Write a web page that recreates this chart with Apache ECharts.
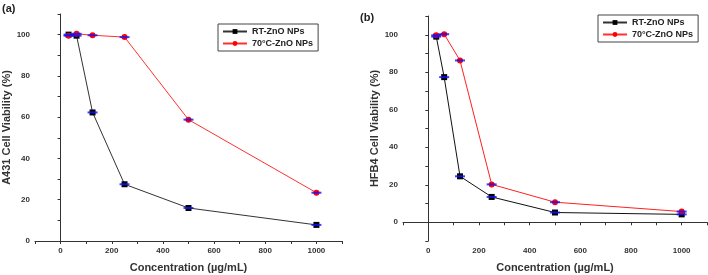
<!DOCTYPE html>
<html>
<head>
<meta charset="utf-8">
<script src="https://cdn.jsdelivr.net/npm/echarts@6/dist/echarts.min.js"></script>
<style>
  html, body { margin: 0; padding: 0; background: #fff; }
  #main { width: 708px; height: 275px; }
</style>
</head>
<body>
<div id="main"></div>
<script>
// concentrations (µg/mL) and viability (%)
var conc = [31.25, 62.5, 125, 250, 500, 1000];
var rtA = [100, 99.5, 62.3, 27.5, 16, 7.8];
var hotA = [99.5, 100.4, 99.7, 98.8, 58.8, 23.4];
var rtB = [99, 77.4, 24.5, 13.5, 5.2, 4.2];
var hotB = [99.7, 100.3, 86.3, 20.2, 10.7, 5.7];
var seriesNames = ['RT-ZnO NPs', '70°C-ZnO NPs'];

function pairs(ys) {
  return conc.map(function (x, i) { return [x, ys[i]]; });
}

var tickFont = { fontSize: 8, fontWeight: 'bold', color: '#333', fontFamily: 'Liberation Sans' };
var nameFont = { fontSize: 11, fontWeight: 'bold', color: '#333', fontFamily: 'Liberation Sans' };
var axisLine = { lineStyle: { color: '#333', width: 1 } };

function xAxis(idx) {
  return {
    type: 'value', gridIndex: idx, min: -100, max: 1100, interval: 100,
    name: 'Concentration (µg/mL)', nameLocation: 'middle', nameGap: 21,
    nameTextStyle: nameFont,
    axisLine: axisLine, axisTick: { length: 3, lineStyle: { color: '#333' } },
    axisLabel: Object.assign({ margin: 6, formatter: function (v) { return v % 200 === 0 ? v : ''; } }, tickFont),
    splitLine: { show: false }
  };
}
function yAxis(idx, min, name) {
  return {
    type: 'value', gridIndex: idx, min: min, max: 110, interval: 10,
    name: name, nameLocation: 'middle', nameGap: 21,
    nameTextStyle: nameFont,
    axisLine: axisLine, axisTick: { length: 3, lineStyle: { color: '#333' } },
    axisLabel: Object.assign({ margin: 5, formatter: function (v) { return v % 20 === 0 ? v : ''; } }, tickFont),
    splitLine: { show: false }
  };
}

function lineSeries(name, data, idx, color, lineColor, symbol) {
  return {
    name: name, type: 'line', xAxisIndex: idx, yAxisIndex: idx, data: pairs(data),
    symbol: symbol, symbolSize: 6, itemStyle: { color: color },
    lineStyle: { color: lineColor, width: 1 }, z: 2
  };
}
// blue error-bar caps at each point
function capSeries(data, idx) {
  return {
    type: 'scatter', xAxisIndex: idx, yAxisIndex: idx, data: pairs(data),
    symbol: 'rect', symbolSize: [10, 2], itemStyle: { color: '#1010ff' }, z: 3, silent: true
  };
}

var legendText = { fontSize: 9, fontWeight: 'bold', color: '#222', fontFamily: 'Liberation Sans' };

var myChart = echarts.init(document.getElementById('main'));
var option = {
  animation: false,
  backgroundColor: '#fff',
  grid: [
    { left: 35, right: 366, top: 14, bottom: 34, outerBoundsMode: 'none' },
    { left: 403, right: 1, top: 16, bottom: 34, outerBoundsMode: 'none' }
  ],
  xAxis: [xAxis(0), xAxis(1)],
  yAxis: [yAxis(0, 0, 'A431 Cell Viability (%)'), yAxis(1, -10, 'HFB4 Cell Viability (%)')],
  legend: [
    { data: seriesNames, left: 218, top: 24, orient: 'vertical', itemGap: 3, itemWidth: 24, itemHeight: 6,
      padding: [3, 5, 3, 4], borderColor: '#444', borderWidth: 1, textStyle: legendText,
      selectedMode: false },
    { data: seriesNames, left: 598, top: 15, orient: 'vertical', itemGap: 3, itemWidth: 24, itemHeight: 6,
      padding: [3, 5, 3, 4], borderColor: '#444', borderWidth: 1, textStyle: legendText,
      selectedMode: false }
  ],
  graphic: [
    { type: 'text', left: 2, top: 3, style: { text: '(a)', font: 'bold 11px Liberation Sans', fill: '#222' } },
    { type: 'text', left: 360, top: 12, style: { text: '(b)', font: 'bold 11px Liberation Sans', fill: '#222' } }
  ],
  series: [
    lineSeries(seriesNames[0], rtA, 0, '#000', '#333', 'rect'),
    lineSeries(seriesNames[1], hotA, 0, '#ff0000', '#ff3030', 'circle'),
    capSeries(rtA, 0), capSeries(hotA, 0),
    lineSeries(seriesNames[0], rtB, 1, '#000', '#111', 'rect'),
    lineSeries(seriesNames[1], hotB, 1, '#ff0000', '#ff2020', 'circle'),
    capSeries(rtB, 1), capSeries(hotB, 1)
  ]
};
myChart.setOption(option);
</script>
</body>
</html>
